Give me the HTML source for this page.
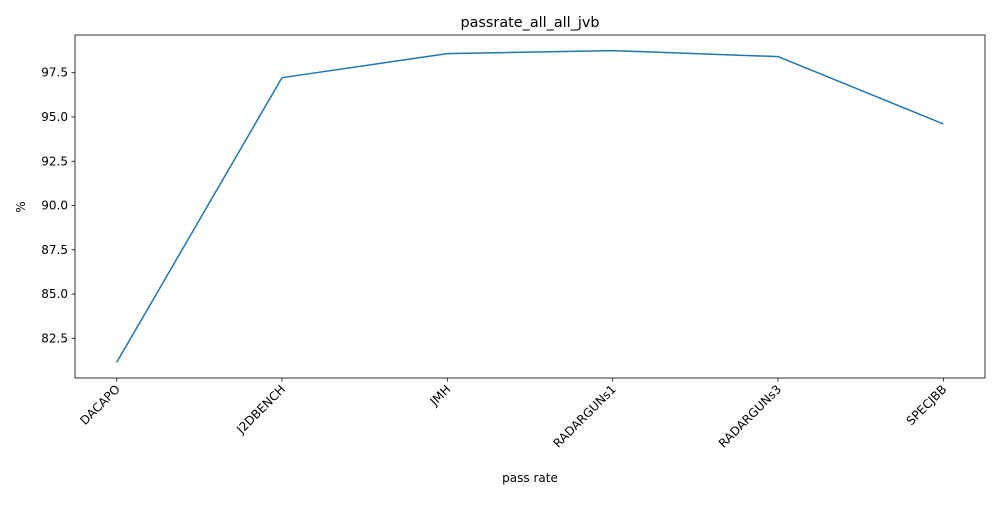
<!DOCTYPE html>
<html><head><meta charset="utf-8"><style>
body{margin:0;background:#fff;font-family:"Liberation Sans","DejaVu Sans",sans-serif;}
svg text{font-family:"DejaVu Sans","Liberation Sans",sans-serif;fill:#000;}
</style></head><body>
<svg id="chart" width="1000" height="500"></svg>
<script>
const categories=["DACAPO","J2DBENCH","JMH","RADARGUNs1","RADARGUNs3","SPECJBB"];
const values=[81.14,97.22,98.58,98.75,98.41,94.61];
const yTicks=[82.5,85.0,87.5,90.0,92.5,95.0,97.5];
const yTickLabels=["82.5","85.0","87.5","90.0","92.5","95.0","97.5"];
const L=75,R=985,T=35,B=378;
const NS="http://www.w3.org/2000/svg";
const svg=document.getElementById('chart');
const min=Math.min(...values),max=Math.max(...values),m=(max-min)*0.05;
const y0=min-m,y1=max+m;
const n=categories.length,xm=(R-L)*0.0458;
function x(i){return L+xm+i*((R-L-2*xm)/(n-1));}
function y(v){return B-(v-y0)/(y1-y0)*(B-T);}
function mk(tag,attrs,txt){const e=document.createElementNS(NS,tag);for(const k in attrs)e.setAttribute(k,attrs[k]);if(txt!==undefined)e.textContent=txt;svg.appendChild(e);return e;}
let e;
e=mk('rect',{x:L,y:T,width:R-L,height:B-T,fill:'none',stroke:'#000','stroke-width':0.8});


yTicks.forEach((v,i)=>{
 e=mk('line',{x1:L-3.5,x2:L,y1:y(v),y2:y(v),stroke:'#000','stroke-width':0.8});
 
 
 e=mk('text',{x:L-7,y:y(v)+4,'text-anchor':'end','font-size':'12'},yTickLabels[i]);
 
 
});
categories.forEach((c,i)=>{
 const xx=x(i);
 e=mk('line',{x1:xx,x2:xx,y1:B,y2:B+3.5,stroke:'#000','stroke-width':0.8});
 
 
 e=mk('text',{x:xx+4,y:B+12,'text-anchor':'end','font-size':'12',transform:`rotate(-45 ${xx+4} ${B+12})`},c);
 
 
});
e=mk('polyline',{points:values.map((v,i)=>x(i)+','+y(v)).join(' '),fill:'none',stroke:'#1f77b4','stroke-width':1.5,'stroke-linejoin':'round'});


e=mk('text',{x:(L+R)/2,y:27,'text-anchor':'middle','font-size':'14.4'},'passrate_all_all_jvb');


e=mk('text',{x:530,y:482,'text-anchor':'middle','font-size':'12'},'pass rate');


e=mk('text',{x:25,y:207,'text-anchor':'middle','font-size':'12',transform:'rotate(-90 25 207)'},'%');


</script>
</body></html>
